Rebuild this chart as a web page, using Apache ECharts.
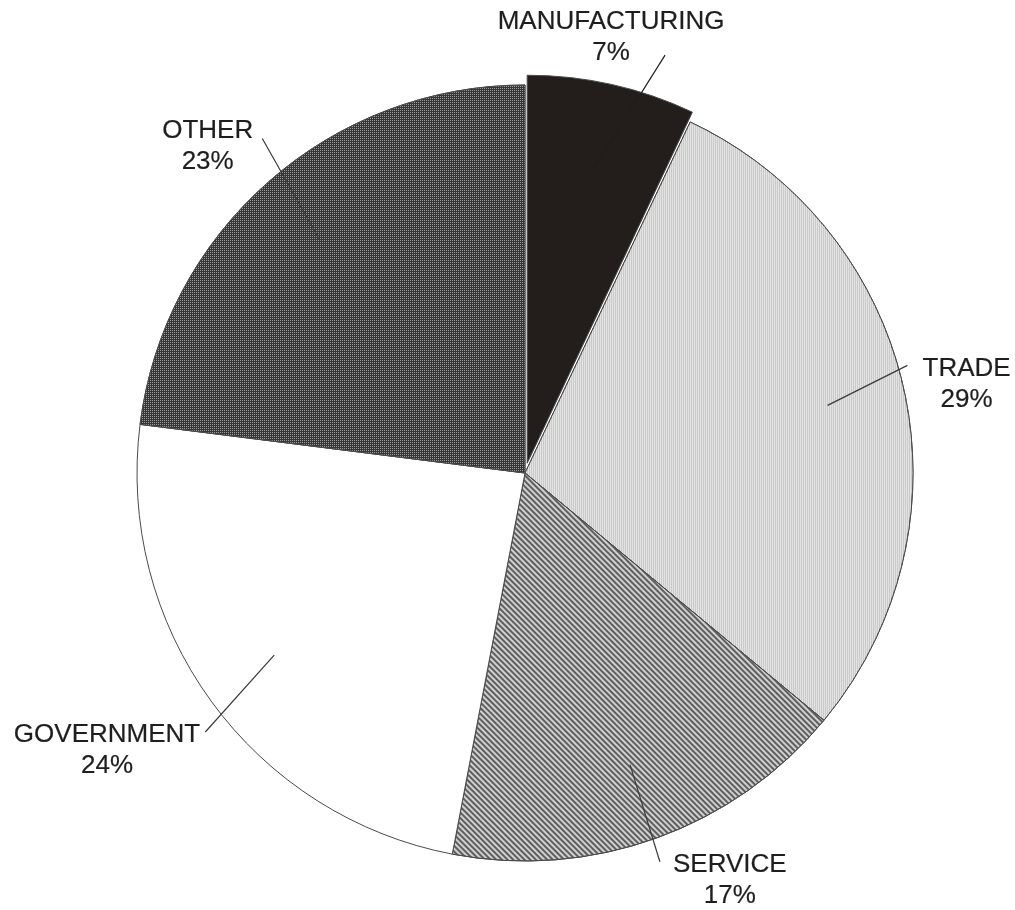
<!DOCTYPE html>
<html><head><meta charset="utf-8">
<script src="https://cdn.jsdelivr.net/npm/echarts@6/dist/echarts.min.js"></script>
<style>html,body{margin:0;background:#fff}#c{width:1015px;height:910px}</style>
</head><body><div id="c"></div>
<script>
const categories = ['MANUFACTURING', 'TRADE', 'SERVICE', 'GOVERNMENT', 'OTHER'];
const shares = [7, 29, 17, 24, 23];

const sliceStyle = {
  MANUFACTURING: { color: '#231e1b' },
  TRADE: { color: '#cbcbcb', decal: { symbol: 'rect', symbolSize: 1, color: '#e2e2e2', dashArrayX: [1, 1], dashArrayY: [1, 0] } },
  SERVICE: { color: '#d0d0d0', decal: { symbol: 'rect', symbolSize: 1, color: '#5e5e5e', dashArrayX: [1, 0], dashArrayY: [2, 2], rotation: Math.PI / 4 } },
  GOVERNMENT: { color: '#ffffff' },
  OTHER: { color: '#363636', decal: { symbol: 'rect', symbolSize: 1, color: '#9c9c9c', dashArrayX: [1, 1], dashArrayY: [1, 1] } }
};
// leader line styling: length beyond the inner ring, shift of the outer end, label anchor relative to that end
const leaderLength = { MANUFACTURING: 112, TRADE: 87, SERVICE: 100, GOVERNMENT: 100, OTHER: 116 };
const leaderColor = { MANUFACTURING: '#221d1a' };
const lineEndShift = { MANUFACTURING: [48, -6], TRADE: [-5, -21], SERVICE: [-4, 3], GOVERNMENT: [12, 18], OTHER: [19, -15] };
const labelAnchor = {
  MANUFACTURING: { side: 'center', dx: -54, dy: -33 },
  TRADE: { side: 'left', dx: 15, dy: 3 },
  SERVICE: { side: 'left', dx: 13, dy: 3 },
  GOVERNMENT: { side: 'right', dx: -5, dy: 3 },
  OTHER: { side: 'right', dx: -9, dy: -8 }
};

const CENTER = [525, 473];
const R = 388;
const LH = 31;

const chart = echarts.init(document.getElementById('c'), null, { renderer: 'canvas' });
chart.setOption({
  backgroundColor: '#ffffff',
  animation: false,
  series: [
    {
      type: 'pie',
      z: 2,
      center: CENTER,
      radius: R,
      startAngle: 90,
      clockwise: true,
      selectedMode: 'single',
      selectedOffset: 10,
      silent: true,
      label: { show: false },
      labelLine: { show: false },
      itemStyle: { borderColor: '#4a4a4a', borderWidth: 1 },
      data: categories.map((n, i) => ({
        name: n, value: shares[i], selected: n === 'MANUFACTURING',
        itemStyle: Object.assign({}, sliceStyle[n])
      }))
    },
    {
      type: 'pie',
      z: 5,
      center: CENTER,
      radius: 310,
      startAngle: 90,
      clockwise: true,
      avoidLabelOverlap: false,
      silent: true,
      itemStyle: { color: 'rgba(0,0,0,0)', borderWidth: 0 },
      label: {
        show: true, position: 'outside',
        formatter: p => p.name + '\n' + p.value + '%',
        fontFamily: '"Liberation Sans", Arial, sans-serif',
        fontSize: 26, lineHeight: LH, color: '#1e1e1e',
        textBorderColor: '#1e1e1e', textBorderWidth: 0.2
      },
      labelLine: { show: true, length2: 0, lineStyle: { color: '#3a3a3a', width: 1.2 } },
      labelLayout: function (p) {
        const pts = p.labelLinePoints;
        if (!pts) return {};
        const name = categories[p.dataIndex];
        const s = pts[0], e = pts[pts.length - 1];
        const sh = lineEndShift[name] || [0, 0];
        const end = [e[0] + sh[0], e[1] + sh[1]];
        const a = labelAnchor[name];
        const w = p.labelRect.width;
        let x = end[0] + a.dx;
        if (a.side === 'left') x += w / 2;
        else if (a.side === 'right') x -= w / 2;
        const y = end[1] + a.dy - LH / 2;
        return { x: x, y: y, align: 'center', verticalAlign: 'top', labelLinePoints: [s, end] };
      },
      data: categories.map((n, i) => ({
        name: n, value: shares[i],
        labelLine: leaderColor[n]
          ? { length: leaderLength[n], lineStyle: { color: leaderColor[n] } }
          : { length: leaderLength[n] }
      }))
    }
  ]
});
</script></body></html>
